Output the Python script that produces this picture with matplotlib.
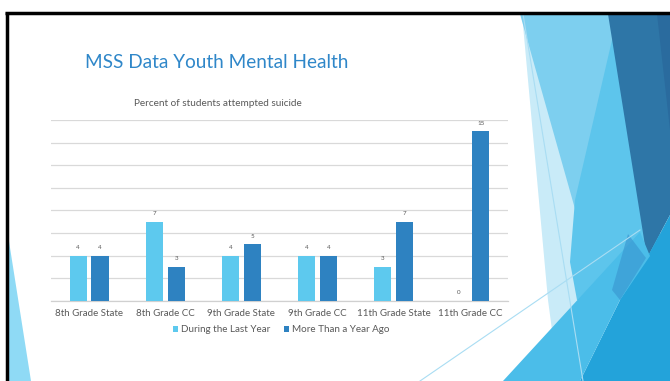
import matplotlib
matplotlib.use("Agg")
import matplotlib.pyplot as plt
from matplotlib.patches import Polygon, Patch

# ---- data ----
categories = ["8th Grade State", "8th Grade CC", "9th Grade State",
              "9th Grade CC", "11th Grade State", "11th Grade CC"]
last_year = [4, 7, 4, 4, 3, 0]
over_year_ago = [4, 3, 5, 4, 7, 15]
series_names = ["During the Last Year", "More Than a Year Ago"]

LIGHT = "#5DC9EE"
DARK = "#2E82C1"
GRAY = "#595959"

plt.rcParams["font.family"] = ["Lato", "DejaVu Sans"]

W, H = 670, 381
fig = plt.figure(figsize=(W / 100, H / 100), dpi=100)
fig.patch.set_facecolor("white")

# ---- slide background decoration (pixel coordinates, y downward) ----
bg = fig.add_axes([0, 0, 1, 1])
bg.set_xlim(0, W)
bg.set_ylim(H, 0)
bg.axis("off")

def poly(pts, color, alpha=1.0, z=1):
    bg.add_patch(Polygon(pts, closed=True, facecolor=color, edgecolor="none",
                         alpha=alpha, zorder=z))

# right side facets
poly([(522, 14), (545, 100), (580, 190), (595, 262), (575, 310), (552, 330), (548, 300)],
     "#C9EBF8", z=1)
poly([(520, 14), (660, 14), (660, 262), (590, 262)], "#7DCFEF", z=2)
poly([(612, 40), (660, 40), (660, 300), (577, 300), (570, 262), (575, 200)], "#5DC5EC", z=3)
poly([(608, 14), (670, 14), (670, 215), (647, 258)], "#2E76A7", z=4)
poly([(657, 14), (670, 14), (670, 130)], "#2A6B9E", z=5)
poly([(647, 258), (670, 215), (670, 381), (580, 381), (620, 300)], "#23A3DA", z=6)
poly([(503, 381), (640, 232), (650, 256), (620, 300), (580, 381)], "#4BBDE9", z=6)
poly([(628, 234), (646, 258), (620, 300), (612, 290)], "#3B9AD3", alpha=0.7, z=7)
bg.plot([523, 583], [14, 381], color="#A9DDF3", lw=0.8, zorder=9)
bg.plot([420, 640], [381, 230], color="#A9DDF3", lw=0.8, zorder=9)

# left sliver
poly([(8, 235), (8, 381), (31, 381)], "#8FDAF5", z=1)

# slide frame
bg.plot([5, W], [12.5, 12.5], color="black", lw=2.5, zorder=10, solid_capstyle="butt")
bg.plot([6.5, 6.5], [12, H], color="black", lw=2.5, zorder=10, solid_capstyle="butt")

# ---- titles ----
fig.text(217 / W, 1 - 63 / H, "MSS Data Youth Mental Health", color="#2F87C9",
         fontsize=13.7, ha="center", va="center")
fig.text(218 / W, 1 - 103 / H, "Percent of students attempted suicide", color=GRAY,
         fontsize=7.2, ha="center", va="center")

# ---- chart ----
ax = fig.add_axes([51 / W, 1 - 300.7 / H, 457 / W, 180.7 / H])
ax.set_facecolor("none")
x = list(range(len(categories)))
off, bw = 0.143, 0.225
b1 = ax.bar([i - off for i in x], last_year, width=bw, color=LIGHT, zorder=3)
b2 = ax.bar([i + off for i in x], over_year_ago, width=bw, color=DARK, zorder=3)
for bars, vals in ((b1, last_year), (b2, over_year_ago)):
    for r, v in zip(bars, vals):
        ax.annotate(str(v), (r.get_x() + r.get_width() / 2, v), xytext=(0, 4),
                    textcoords="offset points", ha="center", va="bottom",
                    fontsize=4.5, color=GRAY)

ax.set_xlim(-0.5, len(categories) - 0.5)
ax.set_ylim(0, 16)
ax.set_yticks(range(0, 17, 2))
ax.yaxis.grid(True, color="#D9D9D9", lw=0.9, zorder=0)
ax.tick_params(axis="y", left=False, labelleft=False)
ax.set_xticks(x)
ax.set_xticklabels(categories, fontsize=7.05, color=GRAY)
ax.tick_params(axis="x", length=0, pad=6)
for s in ("top", "right", "left"):
    ax.spines[s].set_visible(False)
ax.spines["bottom"].set_color("#D0D0D0")
ax.spines["bottom"].set_linewidth(0.9)

handles = [Patch(facecolor=LIGHT), Patch(facecolor=DARK)]
ax.legend(handles, series_names, loc="center", bbox_to_anchor=(281 / W, 1 - 330 / H),
          bbox_transform=fig.transFigure, ncol=2, frameon=False, fontsize=7.1,
          handlelength=0.55, handleheight=0.55, handletextpad=0.25,
          columnspacing=1.4, labelcolor=GRAY)

fig.savefig("out.png", dpi=100, facecolor="white")
